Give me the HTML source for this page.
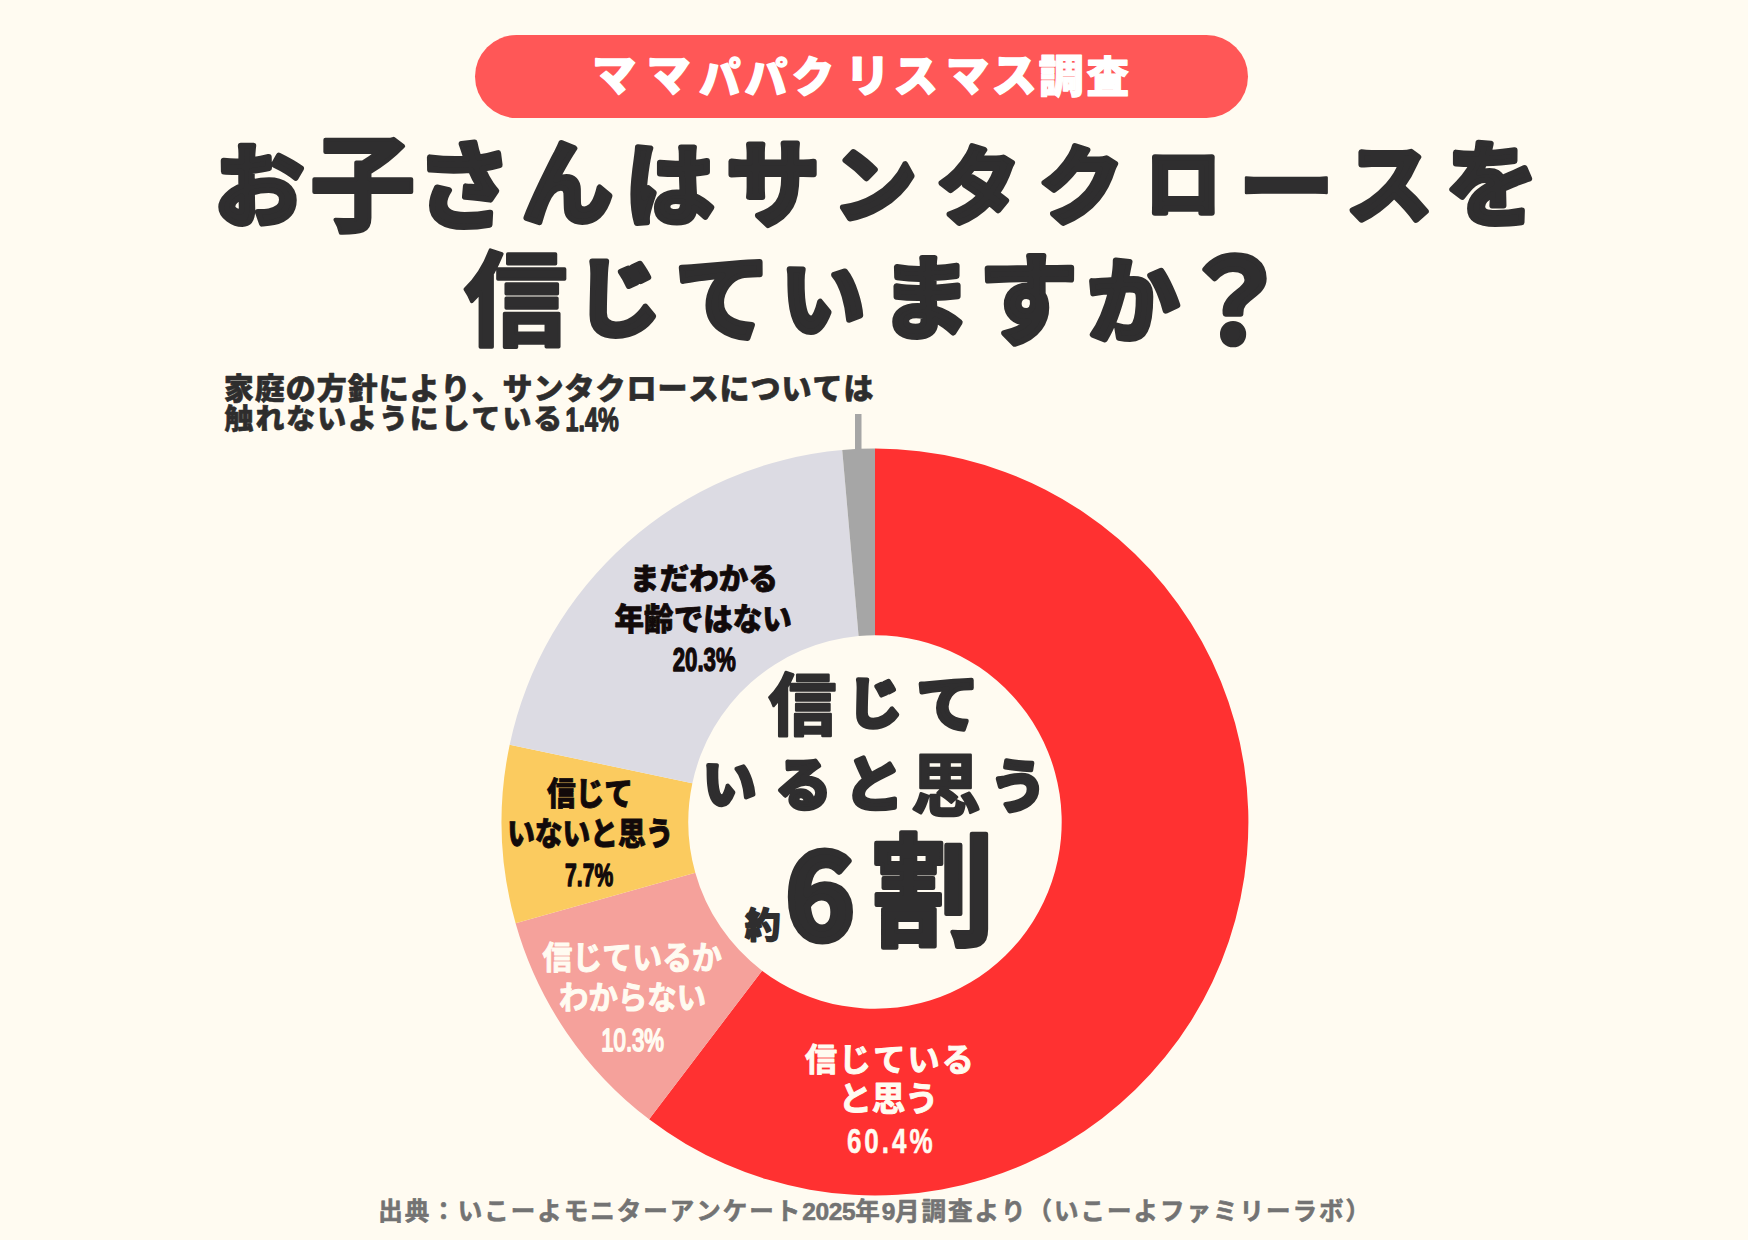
<!DOCTYPE html>
<html lang="ja">
<head>
<meta charset="utf-8">
<title>ママパパクリスマス調査</title>
<style>
html,body{margin:0;padding:0;background:#FFFBF1;}
body{width:1748px;height:1240px;overflow:hidden;position:relative;}
svg{position:absolute;left:0;top:0;display:block;}
text{font-family:"Liberation Sans","Noto Sans CJK JP",sans-serif;font-weight:900;font-kerning:none;}
.t{fill:#2F2E2F;stroke:#2F2E2F;stroke-linejoin:round;stroke-linecap:round;}
.k{fill:#120A0A;stroke:#120A0A;stroke-linejoin:round;}
.p{fill:#FFFFFF;stroke:#FFFFFF;stroke-linejoin:round;}
.w{fill:#FFFBF1;stroke:#FFFBF1;stroke-linejoin:round;}
.f{fill:#737373;stroke:#737373;stroke-linejoin:round;}
.a{fill:#2E2D2D;stroke:#2E2D2D;stroke-linejoin:round;}
</style>
</head>
<body>
<svg width="1748" height="1240" viewBox="0 0 1748 1240">
<rect width="1748" height="1240" fill="#FFFBF1"/>
<!-- pill -->
<rect x="475" y="35" width="773" height="83" rx="41.5" fill="#FF5757"/>
<text class="p" stroke-width="1.5" style="font-weight:900"><tspan x="592.3" y="91.0" font-size="43.9">マ</tspan><tspan x="646.7" y="91.0" font-size="43.8">マ</tspan><tspan x="699.3" y="92.6" font-size="41.2">パ</tspan><tspan x="744.8" y="93.1" font-size="42.5">パ</tspan><tspan x="791.8" y="92.0" font-size="42.4">ク</tspan><tspan x="845.2" y="92.4" font-size="44.8">リ</tspan><tspan x="893.7" y="92.1" font-size="44.1">ス</tspan><tspan x="945.9" y="90.7" font-size="43.0">マ</tspan><tspan x="991.7" y="92.4" font-size="45.0">ス</tspan><tspan x="1038.7" y="92.5" font-size="45.0" stroke-width="1.2">調</tspan><tspan x="1086.6" y="92.4" font-size="42.6" stroke-width="1.2">査</tspan></text>
<!-- title -->
<text class="t" stroke-width="6" style="font-weight:700"><tspan x="214.1" y="218.8" font-size="90.0">お</tspan><tspan x="310.3" y="222.0" font-size="105.0" stroke-width="4">子</tspan><tspan x="416.2" y="220.7" font-size="95.5">さ</tspan><tspan x="521.5" y="217.0" font-size="91.6">ん</tspan><tspan x="625.1" y="217.7" font-size="89.4">は</tspan><tspan x="725.9" y="219.2" font-size="94.1">サ</tspan><tspan x="833.2" y="215.3" font-size="83.3">ン</tspan><tspan x="936.5" y="216.7" font-size="84.0">タ</tspan><tspan x="1038.6" y="217.3" font-size="85.3">ク</tspan><tspan x="1145.6" y="210.7" font-size="75.2">ロ</tspan><tspan x="1237.1" y="222.7" font-size="98.8" stroke-width="2.5">ー</tspan><tspan x="1346.1" y="216.1" font-size="86.7">ス</tspan><tspan x="1445.7" y="218.3" font-size="92.5">を</tspan></text>
<text class="t" stroke-width="6" style="font-weight:700"><tspan x="464.0" y="338.0" font-size="103.5" stroke-width="3.5">信</tspan><tspan x="575.5" y="329.6" font-size="86.1">じ</tspan><tspan x="674.9" y="333.9" font-size="95.7">て</tspan><tspan x="780.8" y="329.7" font-size="84.4">い</tspan><tspan x="880.5" y="331.0" font-size="90.3">ま</tspan><tspan x="979.0" y="335.5" font-size="98.6">す</tspan><tspan x="1087.0" y="334.6" font-size="92.0">か</tspan><tspan x="1177.0" y="342.5" font-size="114.7">？</tspan></text>
<!-- annotation -->
<text class="a" x="223.7" y="398.6" font-size="30.0" letter-spacing="0.99" stroke-width="0.6" style="font-weight:900">家庭の方針により、サンタクロースについては</text>
<text class="a" x="224.6" y="429.0" font-size="28.9" letter-spacing="1.98" stroke-width="0.6" style="font-weight:900">触れないようにしている</text><text class="a" x="-2.1" y="0" transform="translate(567.0,431.1) scale(0.686,1)" font-size="34.0" letter-spacing="0.00" stroke-width="1.4" style="font-weight:700;font-family:'Liberation Sans',sans-serif">1.4%</text>
<rect x="855" y="414" width="6.5" height="37" fill="#A6A6A6"/>
<!-- donut -->
<g id="donut">
<path d="M875.00 448.60A373.4 373.4 0 1 1 649.12 1119.33L762.06 970.67A186.7 186.7 0 1 0 875.00 635.30Z" fill="#FF3131"/>
<path d="M649.12 1119.33A373.4 373.4 0 0 1 515.59 923.26L695.30 872.63A186.7 186.7 0 0 0 762.06 970.67Z" fill="#F5A19B"/>
<path d="M515.59 923.26A373.4 373.4 0 0 1 509.70 744.63L692.35 783.32A186.7 186.7 0 0 0 695.30 872.63Z" fill="#FBCB5F"/>
<path d="M509.70 744.63A373.4 373.4 0 0 1 842.23 450.04L858.61 636.02A186.7 186.7 0 0 0 692.35 783.32Z" fill="#DCDBE3"/>
<path d="M842.23 450.04A373.4 373.4 0 0 1 875.00 448.60L875.00 635.30A186.7 186.7 0 0 0 858.61 636.02Z" fill="#A6A6A6"/>
</g>
<!-- slice labels -->
<text class="k" x="630.1" y="588.5" font-size="29.4" letter-spacing="0.18" stroke-width="0.8" style="font-weight:900">まだわかる</text>
<text class="k" x="-0.9" y="0" transform="translate(615.4,629.7) scale(0.950,1)" font-size="31.1" letter-spacing="0.00" stroke-width="0.8" style="font-weight:900">年齢ではない</text>
<text class="k" x="-1.1" y="0" transform="translate(673.4,671.0) scale(0.681,1)" font-size="32.7" letter-spacing="0.00" stroke-width="1.4" style="font-weight:700;font-family:'Liberation Sans',sans-serif">20.3%</text>
<text class="k" x="-0.2" y="0" transform="translate(547.1,805.0) scale(0.895,1)" font-size="32.1" letter-spacing="0.00" stroke-width="0.8" style="font-weight:900">信じて</text>
<text class="k" x="-3.1" y="0" transform="translate(509.8,845.2) scale(0.861,1)" font-size="32.2" letter-spacing="0.00" stroke-width="0.8" style="font-weight:900">いないと思う</text>
<text class="k" x="-1.4" y="0" transform="translate(566.0,885.6) scale(0.655,1)" font-size="32.2" letter-spacing="0.00" stroke-width="1.4" style="font-weight:700;font-family:'Liberation Sans',sans-serif">7.7%</text>
<text class="w" x="-0.4" y="0" transform="translate(542.9,968.8) scale(0.929,1)" font-size="32.2" letter-spacing="0.00" stroke-width="1.0" style="font-weight:700">信じているか</text>
<text class="w" x="-1.3" y="0" transform="translate(560.3,1009.4) scale(0.934,1)" font-size="31.5" letter-spacing="0.00" stroke-width="1.0" style="font-weight:700">わからない</text>
<text class="w" x="-2.4" y="0" transform="translate(602.9,1050.8) scale(0.695,1)" font-size="31.9" letter-spacing="0.00" stroke-width="2" style="font-weight:400;font-family:'Liberation Sans',sans-serif">10.3%</text>
<text class="w" x="804.9" y="1071.2" font-size="32.2" letter-spacing="2.02" stroke-width="1.0" style="font-weight:700">信じている</text>
<text class="w" x="838.4" y="1111.4" font-size="33.6" letter-spacing="-0.28" stroke-width="1.0" style="font-weight:700">と思う</text>
<text class="w" x="-1.2" y="0" transform="translate(847.8,1153.3) scale(0.746,1)" font-size="34.9" letter-spacing="4.00" stroke-width="0.5" style="font-weight:700;font-family:'Liberation Sans',sans-serif">60.4%</text>
<!-- center -->
<text class="t" stroke-width="4.5" style="font-weight:700"><tspan x="768.5" y="730.2" font-size="67.9" stroke-width="2.5">信</tspan><tspan x="847.4" y="723.1" font-size="54.9">じ</tspan><tspan x="916.4" y="726.8" font-size="62.2">て</tspan></text>
<text class="t" stroke-width="4.5" style="font-weight:700"><tspan x="702.7" y="803.5" font-size="53.6">い</tspan><tspan x="775.3" y="804.6" font-size="56.4">る</tspan><tspan x="843.8" y="806.4" font-size="60.0">と</tspan><tspan x="911.1" y="810.5" font-size="69.7" stroke-width="2.5">思</tspan><tspan x="989.8" y="806.6" font-size="57.2">う</tspan></text>
<text class="t"><tspan stroke-width="2" style="font-weight:700" x="745.1" y="937.6" font-size="35.5">約</tspan><tspan stroke-width="7" style="font-weight:700;font-family:'Noto Sans CJK JP',sans-serif" x="785.6" y="938.8" font-size="116.8">6</tspan><tspan stroke-width="4.2" style="font-weight:700" x="871.4" y="935.5" font-size="122.4">割</tspan></text>
<!-- footer -->
<text class="f" x="378.3" y="1220.2" font-size="24.5" letter-spacing="2" stroke-width="0.6" style="font-weight:700">出典：いこーよモニターアンケート<tspan letter-spacing="-0.4">2025</tspan>年<tspan letter-spacing="-0.4">9</tspan>月調査より（いこーよファミリーラボ）</text>
</svg>
</body>
</html>
